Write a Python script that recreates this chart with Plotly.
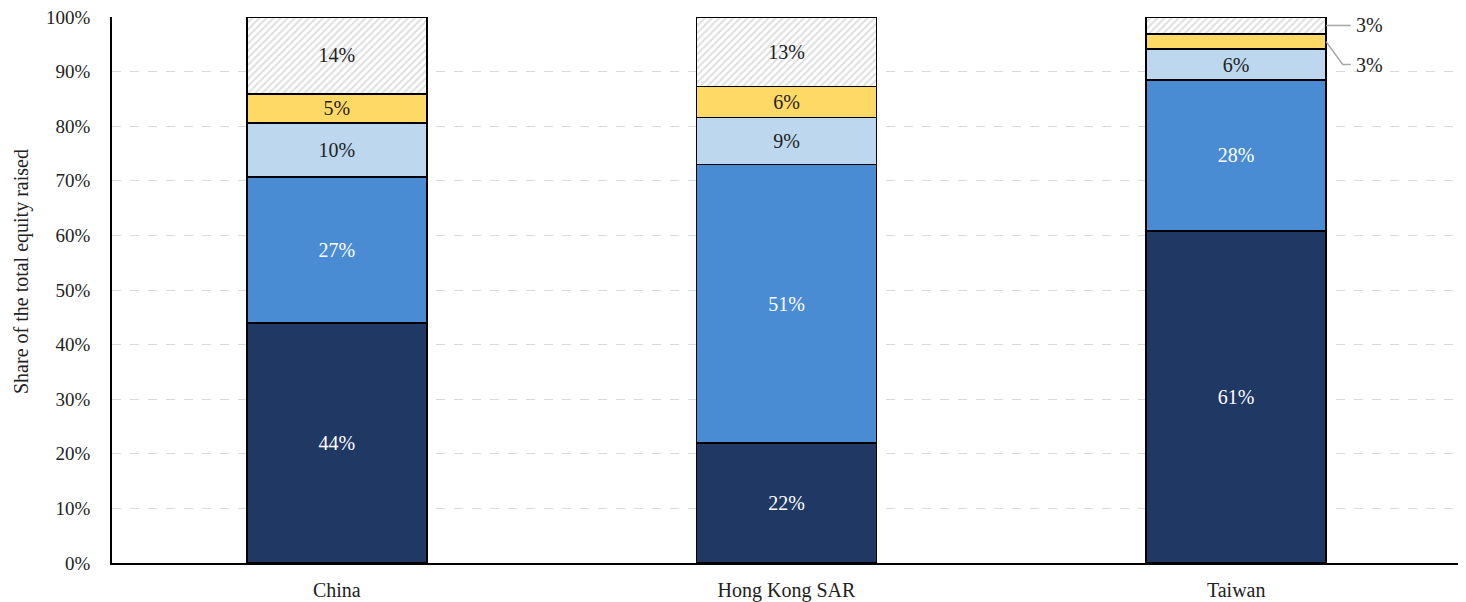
import plotly.graph_objects as go

categories = ["China", "Hong Kong SAR", "Taiwan"]
seg1 = [44.0, 22.0, 60.8]   # dark navy
seg2 = [26.7, 51.0, 27.7]   # mid blue
seg3 = [9.9, 8.6, 5.6]      # light blue
seg4 = [5.3, 5.7, 2.8]      # yellow
seg5 = [14.1, 12.7, 3.1]    # hatched grey
series = [seg1, seg2, seg3, seg4, seg5]
names = ["Segment 1", "Segment 2", "Segment 3", "Segment 4", "Segment 5"]
colors = ["#1f3864", "#4a8cd4", "#bdd7ee", "#ffd966", "#ffffff"]
text_colors = ["white", "white", "#222222", "#222222", "#222222"]
y_ticks = [0, 10, 20, 30, 40, 50, 60, 70, 80, 90, 100]

FONT = "Liberation Serif"
fig = go.Figure()
outside = {(2, 3), (2, 4)}  # Taiwan yellow and hatched labelled outside
for si, (vals, nm, col, tc) in enumerate(zip(series, names, colors, text_colors)):
    texts = ["" if (ci, si) in outside else f"{v:.0f}%" for ci, v in enumerate(vals)]
    marker = dict(color=col, line=dict(color="#000000", width=1.5))
    if si == 4:
        marker["pattern"] = dict(shape="/", fgcolor="#bdbdbd", bgcolor="#ffffff", size=5, solidity=0.4)
    fig.add_trace(go.Bar(
        x=categories, y=vals, name=nm, marker=marker, width=0.4,
        text=texts, textposition="inside", insidetextanchor="middle",
        textangle=0, textfont=dict(family=FONT, size=20, color=tc),
        hoverinfo="skip", showlegend=False,
    ))

# Outside labels for Taiwan's small segments with leader lines
ti = 2
cum = [0.0]
for s in series:
    cum.append(cum[-1] + s[ti])
top_mid = (cum[4] + cum[5]) / 2
yel_mid = (cum[3] + cum[4]) / 2
label_y2 = cum[2] + (cum[3] - cum[2]) / 2
line_col = "#a6a6a6"
fig.add_shape(type="line", x0=ti + 0.2, x1=ti + 0.255, y0=top_mid, y1=top_mid,
              xref="x", yref="y", line=dict(color=line_col, width=1.5))
fig.add_shape(type="path",
              path=f"M {ti + 0.2} {yel_mid} L {ti + 0.237} {label_y2} L {ti + 0.255} {label_y2}",
              xref="x", yref="y", line=dict(color=line_col, width=1.5))
fig.add_annotation(x=ti + 0.262, y=top_mid, text=f"{series[4][ti]:.0f}%", showarrow=False,
                   xanchor="left", font=dict(family=FONT, size=20, color="#222222"))
fig.add_annotation(x=ti + 0.262, y=label_y2, text=f"{series[3][ti]:.0f}%", showarrow=False,
                   xanchor="left", font=dict(family=FONT, size=20, color="#222222"))

# Y-axis title as rotated annotation
fig.add_annotation(xref="paper", yref="paper", x=-0.0667, y=0.533, xanchor="center", yanchor="middle",
                   text="Share of the total equity raised", textangle=-90, showarrow=False,
                   font=dict(family=FONT, size=20, color="#222222"))

fig.update_layout(
    barmode="stack",
    width=1458, height=594,
    margin=dict(l=104, r=5, t=9, b=39),
    paper_bgcolor="white", plot_bgcolor="white",
    font=dict(family=FONT, size=17, color="#222222"),
    bargap=0.6,
)
fig.update_xaxes(showline=True, linecolor="#000000", linewidth=1.5, ticks="",
                 tickfont=dict(family=FONT, size=20), showgrid=False, automargin=False,
                 ticklabelstandoff=8)
fig.update_yaxes(range=[0, 100], tickvals=y_ticks, ticktext=[f"{t}%" for t in y_ticks],
                 showline=True, linecolor="#000000", linewidth=1.5, ticks="",
                 showgrid=True, gridcolor="#d9d9d9", griddash="dash", gridwidth=1,
                 zeroline=False, tickfont=dict(family=FONT, size=19), automargin=False,
                 ticklabelstandoff=16, ticklabeloverflow="allow")

fig.write_html("out.html")
